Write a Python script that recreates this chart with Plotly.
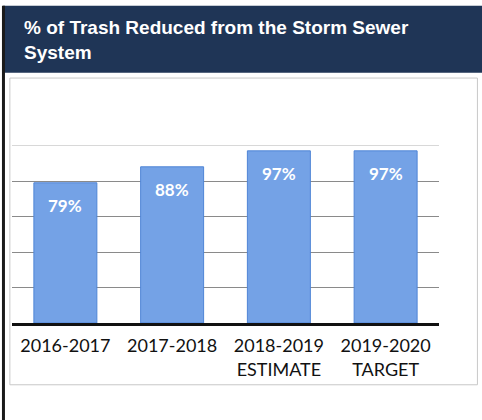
import plotly.graph_objects as go

years = ["2016-2017", "2017-2018", "2018-2019<br>ESTIMATE", "2019-2020<br>TARGET"]
pct_reduced = [79, 88, 97, 97]
bar_labels = ["79%", "88%", "97%", "97%"]
grid_values = [20, 40, 60, 80]

fig = go.Figure()
fig.add_trace(go.Bar(
    x=years,
    y=pct_reduced,
    width=0.59,
    marker=dict(color="#74a2e6", line=dict(color="#4f85d6", width=1)),
    hoverinfo="skip",
))

# value labels sit a bit below the top of each bar
for cat, val, lab in zip(years, pct_reduced, bar_labels):
    fig.add_annotation(
        x=cat, y=val, text=lab, showarrow=False, yshift=-23,
        font=dict(family="Lato", size=17, color="white", weight="bold"),
    )

# faint top gridline
fig.add_shape(type="line", xref="paper", yref="y", x0=0, x1=1, y0=100, y1=100,
              line=dict(color="#d8d8d8", width=1), layer="below")

# title banner and frame
fig.add_shape(type="rect", xref="paper", yref="paper", x0=-0.021, x1=1.11,
              y0=1.175, y1=1.49, fillcolor="#1f3556", line=dict(width=0), layer="below")
fig.add_shape(type="rect", xref="paper", yref="paper", x0=-0.005, x1=1.09,
              y0=-0.29, y1=1.15, fillcolor="rgba(0,0,0,0)",
              line=dict(color="#c8c8c8", width=1), layer="below")
fig.add_shape(type="line", xref="paper", yref="paper", x0=-0.02, x1=-0.02,
              y0=-0.46, y1=1.49, line=dict(color="#1a1a1a", width=3))

fig.add_annotation(
    xref="paper", yref="paper", x=0.023, y=1.445, xanchor="left", yanchor="top",
    align="left", showarrow=False,
    text="% of Trash Reduced from the Storm Sewer<br>System",
    font=dict(family="Liberation Sans", size=19, color="white", weight="bold"),
)

fig.update_yaxes(
    range=[0, 120], tickvals=grid_values, showticklabels=False,
    showgrid=True, gridcolor="#8a8a8a", gridwidth=1, zeroline=False,
    fixedrange=True, automargin=False,
)
fig.update_xaxes(
    showline=True, linecolor="#111111", linewidth=2.5,
    tickfont=dict(family="Lato", size=18, color="#111111"),
    ticks="", ticklabelstandoff=5, fixedrange=True, automargin=False,
)
fig.update_layout(
    width=482, height=420,
    plot_bgcolor="white", paper_bgcolor="white",
    showlegend=False, bargap=0.41,
    margin=dict(t=110, l=12, r=43, b=97, pad=0),
)

fig.write_html(
    "out.html",
    config={"displayModeBar": False},
    post_script="document.body.style.margin='0';",
)
